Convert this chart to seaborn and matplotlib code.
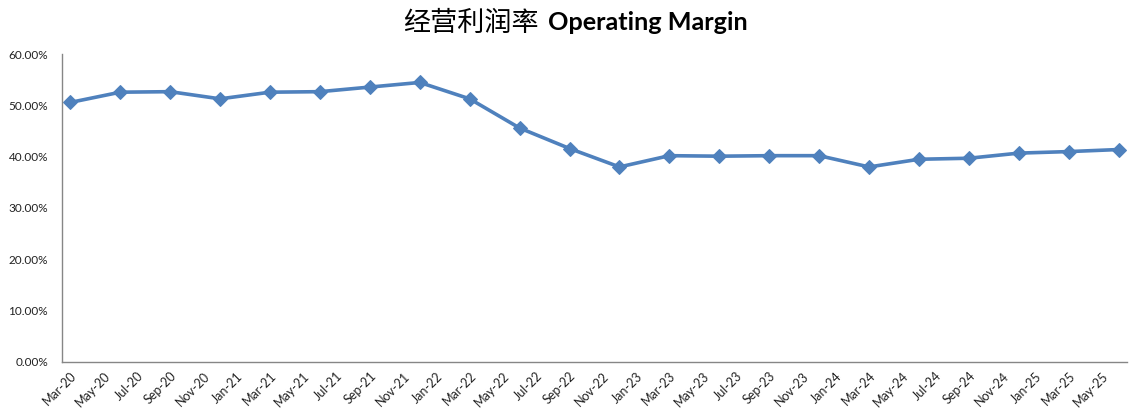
import numpy as np
import pandas as pd
import matplotlib
matplotlib.use("Agg")
import matplotlib.pyplot as plt
import seaborn as sns

# quarterly data (quarter-end months)
quarters = ["Mar-20", "Jun-20", "Sep-20", "Dec-20",
            "Mar-21", "Jun-21", "Sep-21", "Dec-21",
            "Mar-22", "Jun-22", "Sep-22", "Dec-22",
            "Mar-23", "Jun-23", "Sep-23", "Dec-23",
            "Mar-24", "Jun-24", "Sep-24", "Dec-24",
            "Mar-25", "Jun-25"]
margin = [50.6, 52.6, 52.7, 51.3, 52.6, 52.7, 53.6, 54.5, 51.3, 45.6, 41.6,
          38.0, 40.2, 40.1, 40.2, 40.2, 38.0, 39.5, 39.7, 40.7, 41.0, 41.4]

# axis labels every 2 months, Mar-20 .. May-25
tick_labels = pd.date_range("2020-03-01", periods=32, freq="2MS").strftime("%b-%y").tolist()

start = pd.Timestamp("2020-03-01")
dates = pd.to_datetime(quarters, format="%b-%y")
# month slot index, point drawn in the middle of its month slot
xpos = [(d.year - start.year) * 12 + d.month - start.month + 0.5 for d in dates]

df = pd.DataFrame({"x": xpos, "margin": margin})

sns.set_style("white")
plt.rcParams["font.family"] = ["Lato", "DejaVu Sans"]

fig = plt.figure(figsize=(11.39, 4.19), dpi=100)
ax = fig.add_axes([62 / 1139, (419 - 361.5) / 419, (1127 - 62) / 1139, (361.5 - 54.3) / 419])

sns.lineplot(data=df, x="x", y="margin", ax=ax, color="#4F81BD", linewidth=2.6,
             marker="D", markersize=7, markeredgecolor="#4F81BD")

n_months = len(tick_labels) * 2
ax.set_xlim(0, n_months)
ax.set_ylim(0, 60)
ax.set_yticks(np.arange(0, 61, 10))
ax.set_yticklabels([f"{v:.2f}%" for v in np.arange(0, 61, 10)], fontsize=8.5, color="#222222")

# tick marks on 2-month boundaries, labels centred in first month of each pair
ax.set_xticks(np.arange(0, n_months + 1, 2), minor=True)
ax.set_xticks(np.arange(len(tick_labels)) * 2 + 0.5)
ax.set_xticklabels(tick_labels, rotation=45, ha="right", rotation_mode="anchor",
                   fontsize=9, color="#222222")
ax.tick_params(axis="x", which="major", length=0, pad=6)
ax.tick_params(axis="x", which="minor", length=4, width=1, color="#868686", direction="out")
ax.tick_params(axis="y", length=4, width=1, color="#868686", direction="out", pad=6)
ax.set_xlabel("")
ax.set_ylabel("")
ax.grid(False)

for side in ["top", "right"]:
    ax.spines[side].set_visible(False)
for side in ["left", "bottom"]:
    ax.spines[side].set_color("#868686")
    ax.spines[side].set_linewidth(1)

# title: chinese part regular, english part bold
fig.text(539 / 1139, 1 - 23 / 419, "经营利润率", ha="right", va="center",
         fontsize=19.5, family=["Noto Sans CJK SC", "DejaVu Sans"], color="black")
fig.text(548 / 1139, 1 - 23 / 419, "Operating Margin", ha="left", va="center",
         fontsize=18.2, fontweight="bold", family=["Lato", "DejaVu Sans"], color="black")

fig.savefig("out.png", dpi=100)
